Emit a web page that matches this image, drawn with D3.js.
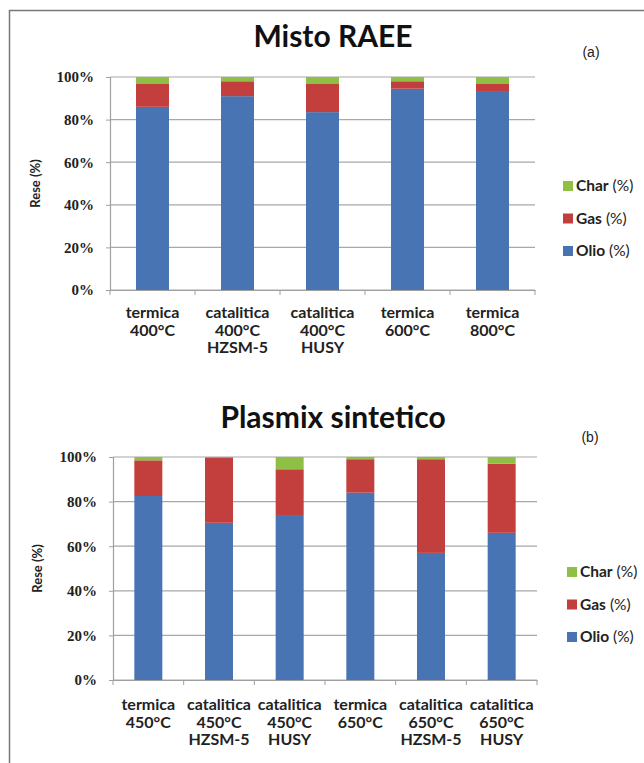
<!DOCTYPE html>
<html>
<head>
<meta charset="utf-8">
<script src="https://cdn.jsdelivr.net/npm/d3@7"></script>
<style>
  body { margin: 0; background: #fff; }
  svg { display: block; }
  .title { font-family: Lato, "Open Sans", sans-serif; font-weight: 700; fill: #111; }
  .ytick { font-family: "Liberation Serif", "DejaVu Serif", serif; font-weight: 700; font-size: 15px; fill: #222; }
  .xlab { font-family: Lato, "Noto Sans", sans-serif; font-weight: 700; font-size: 16px; fill: #222; }
  .leg { font-family: Lato, "Noto Sans", sans-serif; font-size: 15.5px; fill: #222; }
  .axis-title { font-family: Lato, "Noto Sans", sans-serif; font-weight: 700; font-size: 13px; fill: #222; }
</style>
</head>
<body>
<svg id="chart" width="644" height="763"></svg>
<script>
const seriesNames = ['Olio (%)', 'Gas (%)', 'Char (%)'];
const seriesColors = ['#4874b3', '#c33f3e', '#8fc045'];
const yTicks = [0, 20, 40, 60, 80, 100];

const raeeLabels = [
  ['termica', '400°C'],
  ['catalitica', '400°C', 'HZSM-5'],
  ['catalitica', '400°C', 'HUSY'],
  ['termica', '600°C'],
  ['termica', '800°C']
];
const raeeOlio = [86, 91, 83.5, 94.5, 93];
const raeeGas = [11, 7, 13.5, 3.5, 4];
const raeeChar = [3, 2, 3, 2, 3];

const plasmixLabels = [
  ['termica', '450°C'],
  ['catalitica', '450°C', 'HZSM-5'],
  ['catalitica', '450°C', 'HUSY'],
  ['termica', '650°C'],
  ['catalitica', '650°C', 'HZSM-5'],
  ['catalitica', '650°C', 'HUSY']
];
const plasmixOlio = [82.5, 70.5, 74, 84, 57, 66];
const plasmixGas = [16, 29.3, 20.5, 15, 42, 31];
const plasmixChar = [1.5, 0.2, 5.5, 1, 1, 3];

const svg = d3.select('#chart');

// outer frame (top and left edges visible)
svg.append('line').attr('x1', 9).attr('x2', 644).attr('y1', 10.5).attr('y2', 10.5)
  .attr('stroke', '#777').attr('stroke-width', 1.5);
svg.append('line').attr('x1', 9.5).attr('x2', 9.5).attr('y1', 10).attr('y2', 763)
  .attr('stroke', '#777').attr('stroke-width', 1.5);

drawPanel({
  title: 'Misto RAEE', tag: '(a)',
  labels: raeeLabels, olio: raeeOlio, gas: raeeGas, char: raeeChar,
  left: 110, right: 535, top: 77, bottom: 290,
  barWidth: 33, titleY: 47, tagX: 591, tagY: 57,
  legendX: 563, legendY: 186, axisTitleX: 40, labelY: 318
});

drawPanel({
  title: 'Plasmix sintetico', tag: '(b)',
  labels: plasmixLabels, olio: plasmixOlio, gas: plasmixGas, char: plasmixChar,
  left: 113, right: 537, top: 457, bottom: 680,
  barWidth: 28, titleY: 428, tagX: 590, tagY: 442,
  legendX: 567, legendY: 572, axisTitleX: 42, labelY: 710
});

function drawPanel(cfg) {
  const n = cfg.labels.length;
  const rows = cfg.labels.map((l, i) => ({
    key: i, 'Olio (%)': cfg.olio[i], 'Gas (%)': cfg.gas[i], 'Char (%)': cfg.char[i]
  }));
  const x = d3.scaleBand().domain(d3.range(n)).range([cfg.left, cfg.right]);
  const y = d3.scaleLinear().domain([0, 100]).range([cfg.bottom, cfg.top]);
  const g = svg.append('g');

  // grid
  g.selectAll('line.grid').data(yTicks).join('line')
    .attr('x1', cfg.left).attr('x2', cfg.right)
    .attr('y1', d => y(d)).attr('y2', d => y(d))
    .attr('stroke', '#a8a8a8').attr('stroke-width', 1.2);

  // y axis
  const yAxis = g.append('g').attr('transform', `translate(${cfg.left},0)`)
    .call(d3.axisLeft(y).tickValues(yTicks).tickFormat(d => d + '%').tickSize(4).tickPadding(12));
  yAxis.select('.domain').attr('stroke', '#a0a0a0').attr('stroke-width', 1.2);
  yAxis.selectAll('.tick line').attr('stroke', '#a0a0a0');
  yAxis.selectAll('text').attr('class', 'ytick').attr('font-size', null).attr('font-family', null);

  // x axis
  const xAxis = g.append('g').attr('transform', `translate(0,${cfg.bottom})`)
    .call(d3.axisBottom(x).tickSize(0).tickFormat(''));
  xAxis.select('.domain').attr('stroke', '#a0a0a0').attr('stroke-width', 1.2);
  const bounds = d3.range(n + 1).map(i => cfg.left + i * x.step());
  g.selectAll('line.xt').data(bounds).join('line')
    .attr('x1', d => d).attr('x2', d => d)
    .attr('y1', cfg.bottom).attr('y2', cfg.bottom + 5)
    .attr('stroke', '#a0a0a0');

  // stacked bars
  const stack = d3.stack().keys(seriesNames)(rows);
  const color = d3.scaleOrdinal().domain(seriesNames).range(seriesColors);
  stack.forEach(layer => {
    g.selectAll(null).data(layer).join('rect')
      .attr('x', d => x(d.data.key) + x.bandwidth() / 2 - cfg.barWidth / 2)
      .attr('width', cfg.barWidth)
      .attr('y', d => y(Math.min(d[1], 100)))
      .attr('height', d => y(d[0]) - y(Math.min(d[1], 100)))
      .attr('fill', color(layer.key));
  });

  // category labels
  cfg.labels.forEach((lines, i) => {
    const t = g.append('text').attr('class', 'xlab').attr('text-anchor', 'middle')
      .attr('x', x(i) + x.bandwidth() / 2).attr('y', cfg.labelY);
    lines.forEach((s, j) => {
      t.append('tspan').attr('x', x(i) + x.bandwidth() / 2).attr('dy', j ? 17.5 : 0).text(s);
    });
  });

  // titles
  g.append('text').attr('class', 'title').attr('x', 333).attr('y', cfg.titleY)
    .attr('text-anchor', 'middle').attr('font-size', 30).text(cfg.title);
  g.append('text').attr('x', cfg.tagX).attr('y', cfg.tagY).attr('text-anchor', 'middle')
    .attr('font-family', 'Liberation Sans, Arial, sans-serif').attr('font-size', 14).attr('fill', '#222')
    .text(cfg.tag);

  const my = (cfg.top + cfg.bottom) / 2;
  g.append('text').attr('class', 'axis-title')
    .attr('transform', `translate(${cfg.axisTitleX},${my}) rotate(-90)`)
    .attr('text-anchor', 'middle').text('Rese (%)');

  // legend: Char on top, then Gas, then Olio
  const legendOrder = seriesNames.slice().reverse();
  legendOrder.forEach((name, i) => {
    const ly = cfg.legendY + i * 32.5;
    g.append('rect').attr('x', cfg.legendX).attr('y', ly - 5).attr('width', 10).attr('height', 10)
      .attr('fill', color(name));
    const t = g.append('text').attr('class', 'leg').attr('x', cfg.legendX + 13).attr('y', ly + 5);
    const parts = name.split(' ');
    t.append('tspan').attr('font-weight', 700).text(parts[0]);
    t.append('tspan').text(' ' + parts[1]);
  });
}
</script>
</body>
</html>
